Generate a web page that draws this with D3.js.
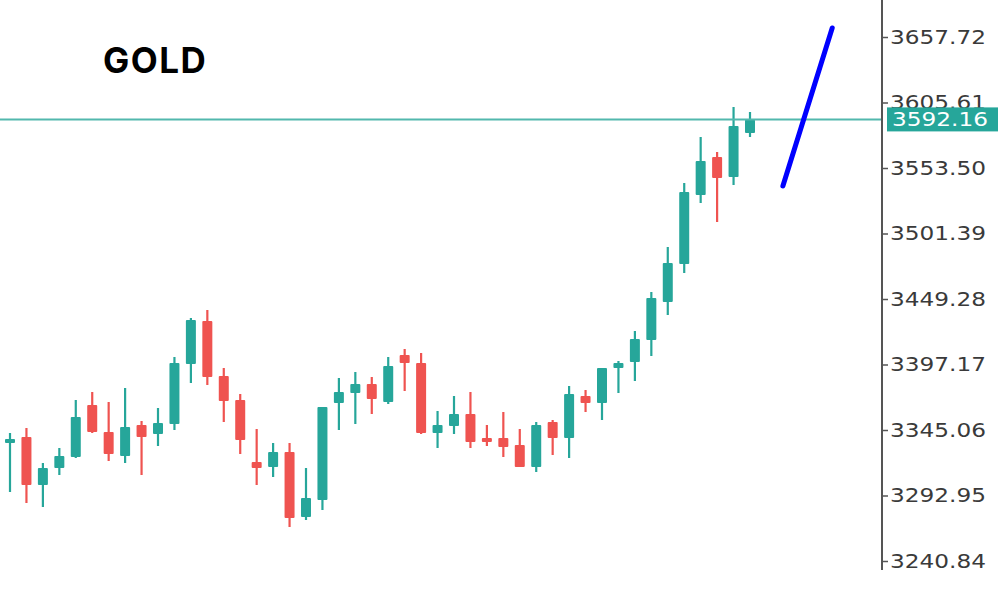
<!DOCTYPE html>
<html>
<head>
<meta charset="utf-8">
<script src="https://cdn.jsdelivr.net/npm/d3@7"></script>
<style>
  html, body { margin: 0; padding: 0; background: #ffffff; }
  svg { display: block; }
</style>
</head>
<body>
<svg id="chart" width="1000" height="600"></svg>
<script>
// ---- Data ----
const title = "GOLD";
const openP  = [3334.72,3339.49,3301.30,3314.83,3323.58,3364.95,3343.47,3324.37,3349.04,3341.88,3349.83,3397.57,3431.77,3388.02,3368.93,3319.60,3315.62,3327.56,3275.84,3289.37,3366.54,3374.49,3381.65,3367.33,3404.73,3398.36,3342.67,3348.24,3357.79,3338.69,3338.69,3333.12,3315.62,3351.42,3338.69,3372.11,3366.54,3394.38,3399.16,3416.66,3446.89,3477.12,3532.01,3562.25,3546.34,3581.34];
const highP  = [3342.67,3346.65,3318.81,3330.74,3368.93,3375.29,3367.33,3378.47,3352.22,3362.56,3403.13,3434.16,3440.53,3394.38,3373.70,3345.85,3334.72,3334.72,3314.83,3363.36,3386.43,3391.20,3387.22,3403.13,3409.50,3406.32,3360.17,3372.11,3375.29,3349.04,3359.38,3345.85,3351.42,3353.01,3380.06,3376.88,3394.38,3399.95,3423.82,3454.85,3490.65,3541.56,3578.16,3566.22,3602.02,3598.05];
const lowP   = [3295.73,3286.98,3283.80,3309.26,3322.78,3342.67,3320.40,3318.81,3309.26,3332.33,3345.06,3382.45,3380.86,3351.42,3325.96,3301.30,3307.67,3267.89,3273.46,3281.41,3345.06,3349.83,3357.79,3365.74,3376.09,3341.88,3330.74,3341.88,3330.74,3332.33,3323.58,3315.62,3311.64,3325.17,3322.78,3359.38,3353.01,3374.49,3384.04,3403.93,3436.55,3469.96,3525.65,3510.53,3539.97,3578.16];
const closeP = [3337.90,3301.30,3314.83,3324.37,3355.40,3343.47,3325.96,3347.45,3339.49,3350.63,3398.36,3432.57,3387.22,3368.13,3337.10,3314.83,3327.56,3275.05,3290.96,3363.36,3375.29,3381.65,3369.72,3395.97,3398.36,3342.67,3349.04,3357.79,3335.51,3335.51,3331.53,3315.62,3349.04,3338.69,3373.70,3366.54,3394.38,3398.36,3417.45,3450.07,3477.92,3534.40,3559.06,3545.54,3586.91,3592.16];
const tickValues = [3240.84,3292.95,3345.06,3397.17,3449.28,3501.39,3553.50,3605.61,3657.72];
const tickLabels = ["3240.84","3292.95","3345.06","3397.17","3449.28","3501.39","3553.50","3605.61","3657.72"];
const lastPrice = 3592.16;
const lastPriceLabel = "3592.16";
const projIndex = [47, 50];
const projPrice = [3539.2, 3664.9];

// ---- Setup ----
const svg = d3.select("#chart");
const axisX = 882;
const green = "#26a69a", red = "#ef5350";

const x = d3.scaleLinear().domain([0, 45]).range([10, 750]);
const y = d3.scaleLinear().domain([3240.84, 3657.72]).range([561, 37]);

const candles = openP.map((o, i) => ({ i, o, h: highP[i], l: lowP[i], c: closeP[i] }));

// Candles
const g = svg.append("g");
g.selectAll("line.wick").data(candles).join("line")
  .attr("class", "wick")
  .attr("x1", d => x(d.i)).attr("x2", d => x(d.i))
  .attr("y1", d => y(d.h)).attr("y2", d => y(d.l))
  .attr("stroke", d => d.c >= d.o ? green : red)
  .attr("stroke-width", 2.2);
g.selectAll("rect.body").data(candles).join("rect")
  .attr("class", "body")
  .attr("x", d => x(d.i) - 5)
  .attr("width", 10)
  .attr("y", d => y(Math.max(d.o, d.c)))
  .attr("height", d => Math.max(3, Math.abs(y(d.o) - y(d.c))))
  .attr("rx", 1)
  .attr("fill", d => d.c >= d.o ? green : red);

// Current price line
svg.append("line")
  .attr("x1", 0).attr("x2", axisX)
  .attr("y1", y(lastPrice)).attr("y2", y(lastPrice))
  .attr("stroke", "#52b8ad").attr("stroke-width", 2);

// Projection line
const projLine = d3.line().x(d => x(d[0])).y(d => y(d[1]));
svg.append("path")
  .attr("d", projLine(projIndex.map((v, k) => [v, projPrice[k]])))
  .attr("stroke", "#0000ff").attr("stroke-width", 5)
  .attr("stroke-linecap", "round").attr("fill", "none");

// Right axis
const axis = d3.axisRight(y).tickValues(tickValues)
  .tickFormat((d, k) => tickLabels[k]).tickSize(6).tickPadding(2);
const ag = svg.append("g").attr("transform", `translate(${axisX},0)`).call(axis);
ag.select(".domain").remove();
ag.append("line").attr("x1", 0).attr("x2", 0).attr("y1", 0).attr("y2", 570)
  .attr("stroke", "#555").attr("stroke-width", 2);
ag.selectAll(".tick line").attr("stroke", "#555").attr("stroke-width", 1.5);
ag.selectAll(".tick text")
  .attr("fill", "#3a3a3a")
  .style("font-family", "'DejaVu Sans', sans-serif")
  .style("font-size", "20px")
  .attr("textLength", 96).attr("lengthAdjust", "spacingAndGlyphs");

// Last price label
const ly = y(lastPrice);
svg.append("rect").attr("x", 887).attr("y", ly - 12).attr("width", 111).attr("height", 24)
  .attr("fill", green);
svg.append("text").attr("x", 892).attr("y", ly).attr("dy", "0.35em")
  .attr("fill", "#ffffff")
  .style("font-family", "'DejaVu Sans', sans-serif")
  .style("font-size", "20px")
  .attr("textLength", 96).attr("lengthAdjust", "spacingAndGlyphs")
  .text(lastPriceLabel);

// Title
svg.append("text").attr("x", 103).attr("y", 73)
  .style("font-family", "Inter, 'Open Sans', sans-serif")
  .style("font-weight", "700")
  .style("font-size", "35px")
  .style("letter-spacing", "1.5px")
  .attr("fill", "#000")
  .text(title);
</script>
</body>
</html>
